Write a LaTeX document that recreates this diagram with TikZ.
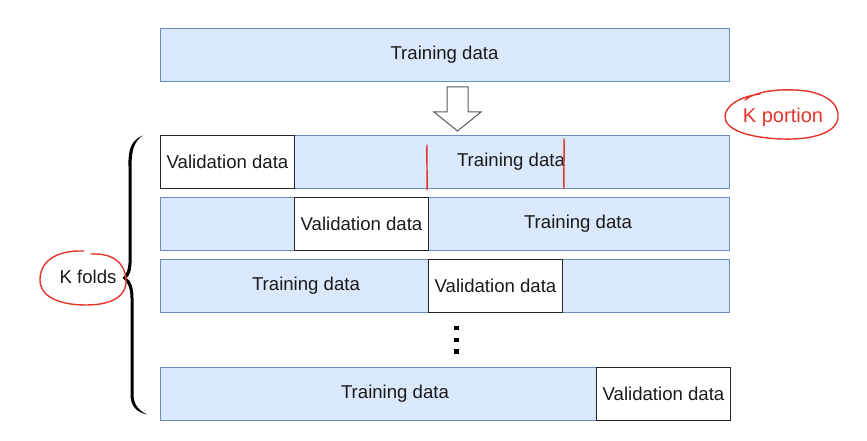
\documentclass[tikz,border=0pt]{standalone}
\usepackage{fontspec}
\setmainfont{Liberation Sans}
\begin{document}
\begin{tikzpicture}[x=1pt,y=-1pt,
  bar/.style={draw=barline,fill=barfill,line width=1pt,inner sep=0pt,anchor=north west,
    minimum width=569pt,minimum height=53pt},
  valbox/.style={draw=black!85,fill=white,line width=1pt,inner sep=0pt,anchor=north west,
    minimum width=134pt,minimum height=53pt,text=txt,font=\fontsize{18.6}{21}\selectfont},
  lbl/.style={text=txt,font=\fontsize{18.6}{21}\selectfont,inner sep=0pt},
  ink/.style={draw=inkred,line width=1.4pt,line cap=round},
  dot/.style={fill=black,draw=none,minimum size=4.5pt,inner sep=0pt}]
\definecolor{barfill}{HTML}{DAE8FC}
\definecolor{barline}{HTML}{6C8EBF}
\definecolor{txt}{HTML}{1A1A1A}
\definecolor{inkred}{HTML}{E3342B}
\useasboundingbox (0,0) rectangle (867,441);

% full training set
\node[bar] (full) at (160,28) {};
\node[lbl] (fulltxt) at (444.5,55) {Training data};

% down arrow
\draw[draw=black!65,fill=white,line width=1pt,line join=miter]
  (447,87) -- (468,87) -- (468,112) -- (481,112) -- (457.5,131) -- (434,112) -- (447,112) -- cycle;

% folds
\node[bar] (f1) at (160,135) {};
\node[bar] (f2) at (160,197) {};
\node[bar] (f3) at (160,259) {};
\node[bar] (f4) at (160,367) {};

\node[valbox] (v1) at (160,135) {Validation data};
\node[valbox] (v2) at (294,197) {Validation data};
\node[valbox] (v3) at (428,259) {Validation data};
\node[valbox] (v4) at (596,367) {Validation data};

\node[lbl] (t1) at (511,162) {Training data};
\node[lbl] (t2) at (578,224) {Training data};
\node[lbl] (t3) at (306,286) {Training data};
\node[lbl] (t4) at (395,394) {Training data};

% ellipsis between folds
\node[dot] (d1) at (456.5,328) {};
\node[dot] (d2) at (456.5,340) {};
\node[dot] (d3) at (456.5,351.5) {};

% curly brace grouping the folds, tapered at its ends
\fill
  (143,135.5) .. controls (131,140) and (128,150) .. (128.5,166) -- (128.7,258)
  .. controls (128.7,270) and (126,275.5) .. (122.5,278)
  .. controls (127,281) and (130.5,287) .. (130.5,298) -- (130.5,394)
  .. controls (130.5,406) and (136,412) .. (147,414.5)
  .. controls (138,410) and (133.5,404) .. (133.5,394) -- (133.5,298)
  .. controls (133.5,288) and (131,281) .. (126.5,278)
  .. controls (130,275) and (131.7,270) .. (131.7,258) -- (131.5,166)
  .. controls (131.5,151) and (134,141) .. (143,135.5) -- cycle;

% hand-drawn marks
\draw[ink] (427,145) .. controls (426.5,160) and (427.5,175) .. (427,190);
\draw[ink] (564,139) .. controls (564.5,155) and (563.5,172) .. (564,189);

\node[lbl] (kf) at (88,277) {K folds};
\draw[ink] (84,251) .. controls (55,250) and (40,262) .. (40,280)
  .. controls (40,296) and (58,305) .. (86,305)
  .. controls (112,305) and (127,296) .. (126,280)
  .. controls (125,262) and (112,253) .. (91,254);

\node[text=inkred,font=\fontsize{20}{22}\selectfont,inner sep=0pt] (kp) at (783,117) {K portion};
\draw[ink] (745,100) .. controls (755,92) and (775,89) .. (795,90)
  .. controls (825,91) and (840,104) .. (838,118)
  .. controls (836,133) and (812,140) .. (782,139)
  .. controls (750,138) and (724,130) .. (725,116)
  .. controls (726,106) and (738,97) .. (760,94);
\end{tikzpicture}
\end{document}
